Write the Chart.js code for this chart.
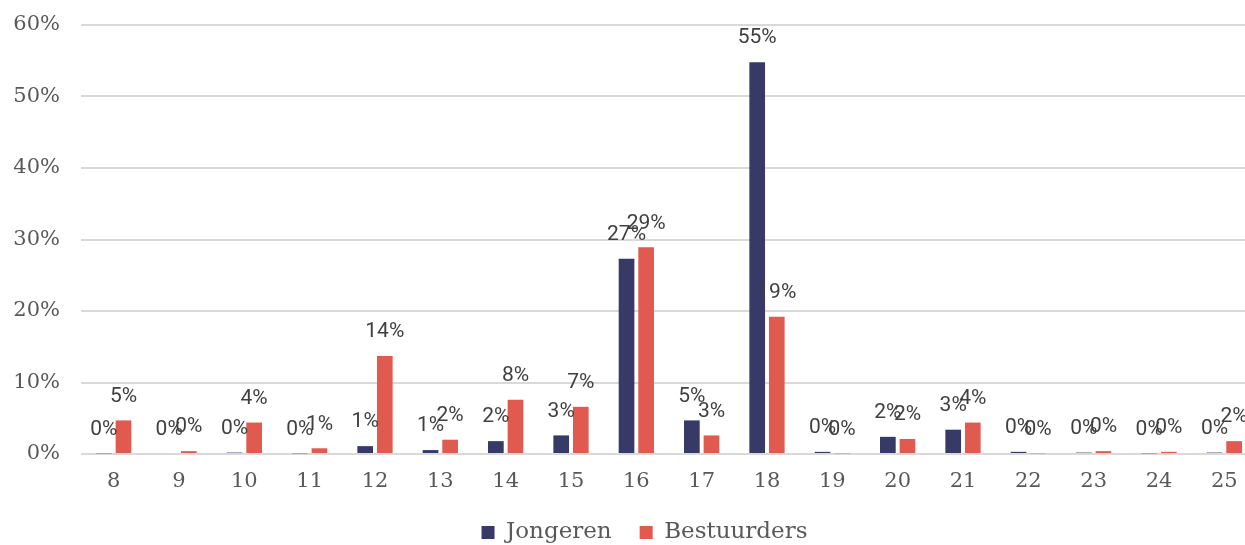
<!DOCTYPE html>
<html>
<head>
<meta charset="utf-8">
<script src="https://cdn.jsdelivr.net/npm/chart.js@4"></script>
<style>
  html, body { margin: 0; padding: 0; background: #fff; overflow: hidden; }
  #wrap { width: 1288px; height: 554px; }
</style>
</head>
<body>
<div id="wrap"><canvas id="cav"></canvas></div>
<script>
// Data
var ages = ['8', '9', '10', '11', '12', '13', '14', '15', '16', '17', '18', '19', '20', '21', '22', '23', '24', '25'];
var jongeren = [0.1, 0, 0.2, 0.1, 1.1, 0.55, 1.8, 2.6, 27.3, 4.7, 54.8, 0.3, 2.4, 3.4, 0.3, 0.2, 0.1, 0.2];
var bestuurders = [4.7, 0.4, 4.4, 0.8, 13.7, 2.0, 7.6, 6.6, 28.9, 2.6, 19.2, 0.1, 2.1, 4.4, 0.1, 0.4, 0.3, 1.8];
var seriesNames = ['Jongeren', 'Bestuurders'];

var colours = ['#373a66', '#e05a50'];

// labels above every bar, like excel
var barLabels = {
    id: 'barLabels',
    afterDatasetsDraw: function(chart) {
        var ctx = chart.ctx;
        ctx.save();
        ctx.font = '21px Roboto';
        ctx.fillStyle = '#404040';
        ctx.textAlign = 'center';
        ctx.textBaseline = 'middle';
        chart.data.datasets.forEach(function(ds, i) {
            var meta = chart.getDatasetMeta(i);
            meta.data.forEach(function(bar, j) {
                ctx.fillText(Math.round(ds.data[j]) + '%', bar.x, bar.y - 24);
            });
        });
        ctx.restore();
    }
};

// legend sits a bit right of the canvas centre in the original
var legendShift = {
    id: 'legendShift',
    afterLayout: function(chart) {
        chart.legend.left += 16;
        chart.legend.right += 16;
    }
};

var chart = new Chart(document.getElementById('cav'), {
    type: 'bar',
    data: {
        labels: ages,
        datasets: [
            { label: seriesNames[0], data: jongeren, backgroundColor: colours[0] },
            { label: seriesNames[1], data: bestuurders, backgroundColor: colours[1] }
        ]
    },
    options: {
        responsive: true,
        maintainAspectRatio: false,
        animation: false,
        layout: { padding: { top: 25, right: 31, left: 0, bottom: 0 } },
        datasets: {
            bar: { categoryPercentage: 0.6, barPercentage: 0.8 }
        },
        scales: {
            x: {
                afterFit: function(scale) { scale.height = 39; },
                grid: { display: false },
                border: { display: false },
                ticks: { color: '#595959', font: { family: 'DejaVu Serif', size: 21 }, padding: 7 }
            },
            y: {
                min: 0,
                max: 60,
                afterFit: function(scale) {
                    scale.width = 81;
                    scale.paddingTop = 0;
                    scale.paddingBottom = 0;
                },
                grid: { color: '#d9d9d9', lineWidth: 2, drawTicks: false },
                border: { display: false },
                ticks: {
                    stepSize: 10,
                    padding: 21,
                    color: '#595959',
                    font: { family: 'DejaVu Serif', size: 21 },
                    callback: function(v) { return v + '%'; }
                }
            }
        },
        plugins: {
            tooltip: { enabled: false },
            legend: {
                position: 'bottom',
                labels: {
                    boxWidth: 13,
                    boxHeight: 13,
                    color: '#595959',
                    padding: 28,
                    font: { family: 'DejaVu Serif', size: 23 }
                }
            }
        }
    },
    plugins: [barLabels, legendShift]
});
</script>
</body>
</html>
